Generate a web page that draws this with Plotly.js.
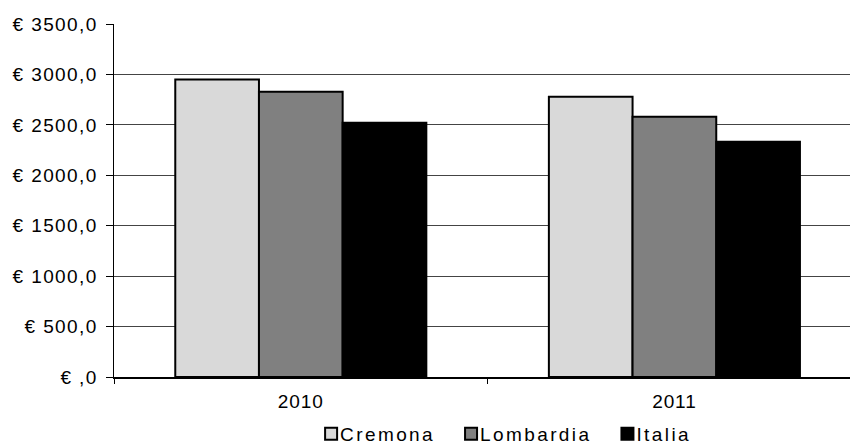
<!DOCTYPE html>
<html>
<head>
<meta charset="utf-8">
<script src="https://cdn.plot.ly/plotly-3.0.1.min.js"></script>
<style>
  html, body { margin: 0; padding: 0; background: #fff; }
  #chart { width: 850px; height: 446px; }
  /* wider tracking on the labels */
  .ytick text { letter-spacing: 1.4px; }
  .xtick text { letter-spacing: 0.9px; }
  .legendtext { letter-spacing: 2.4px; }
  .legendpoints { transform: translateX(11px); }
</style>
</head>
<body>
<div id="chart"></div>
<script>
// Years on the category axis
const years = ['2010', '2011'];

// Values per area (euro)
const cremona = [2950, 2778];
const lombardia = [2828, 2580];
const italia = [2520, 2332];

// Series names and fills
const seriesNames = ['Cremona', 'Lombardia', 'Italia'];
const seriesColors = ['#d9d9d9', '#808080', '#000000'];

// Value-axis ticks and their labels
const yTickVals = [0, 500, 1000, 1500, 2000, 2500, 3000, 3500];
const yTickText = ['€ ,0', '€ 500,0', '€ 1000,0', '€ 1500,0', '€ 2000,0', '€ 2500,0', '€ 3000,0', '€ 3500,0'];

const seriesValues = [cremona, lombardia, italia];

const traces = seriesValues.map((vals, i) => ({
  type: 'bar',
  name: seriesNames[i],
  x: years,
  y: vals,
  marker: { color: seriesColors[i], line: { color: '#000', width: 2 } },
  hoverinfo: 'x+y+name'
}));

const family = 'Liberation Sans, Arial, sans-serif';

const layout = {
  width: 850,
  height: 446,
  margin: { l: 114, r: 0, t: 24, b: 69, autoexpand: false },
  paper_bgcolor: '#fff',
  plot_bgcolor: '#fff',
  font: { family: family, size: 19, color: '#000' },
  barmode: 'group',
  bargap: 0.328,
  bargroupgap: 0,
  showlegend: true,
  legend: {
    orientation: 'h',
    xref: 'container', yref: 'container',
    x: 0.586, xanchor: 'center',
    y: 0.027, yanchor: 'middle',
    font: { family: family, size: 19, color: '#000' },
    itemwidth: 30,
    tracegroupgap: 0,
    traceorder: 'normal',
    bgcolor: 'rgba(0,0,0,0)'
  },
  xaxis: {
    type: 'category',
    range: [-0.5, 1.47],
    showline: true,
    linecolor: '#000',
    linewidth: 1.5,
    ticks: 'outside',
    tickson: 'boundaries',
    ticklen: 5,
    tickcolor: '#000',
    ticklabelstandoff: 7,
    showgrid: false,
    tickfont: { family: family, size: 19, color: '#000' },
    zeroline: false
  },
  yaxis: {
    range: [0, 3500],
    tickvals: yTickVals,
    ticktext: yTickText,
    ticks: 'outside',
    ticklen: 7,
    tickcolor: '#000',
    ticklabelstandoff: 4,
    showline: true,
    linecolor: '#000',
    linewidth: 1.5,
    showgrid: true,
    gridcolor: '#444',
    gridwidth: 1,
    zeroline: false,
    tickfont: { family: family, size: 19, color: '#000' }
  }
};

Plotly.newPlot('chart', traces, layout, { displayModeBar: false, staticPlot: true });
</script>
</body>
</html>
